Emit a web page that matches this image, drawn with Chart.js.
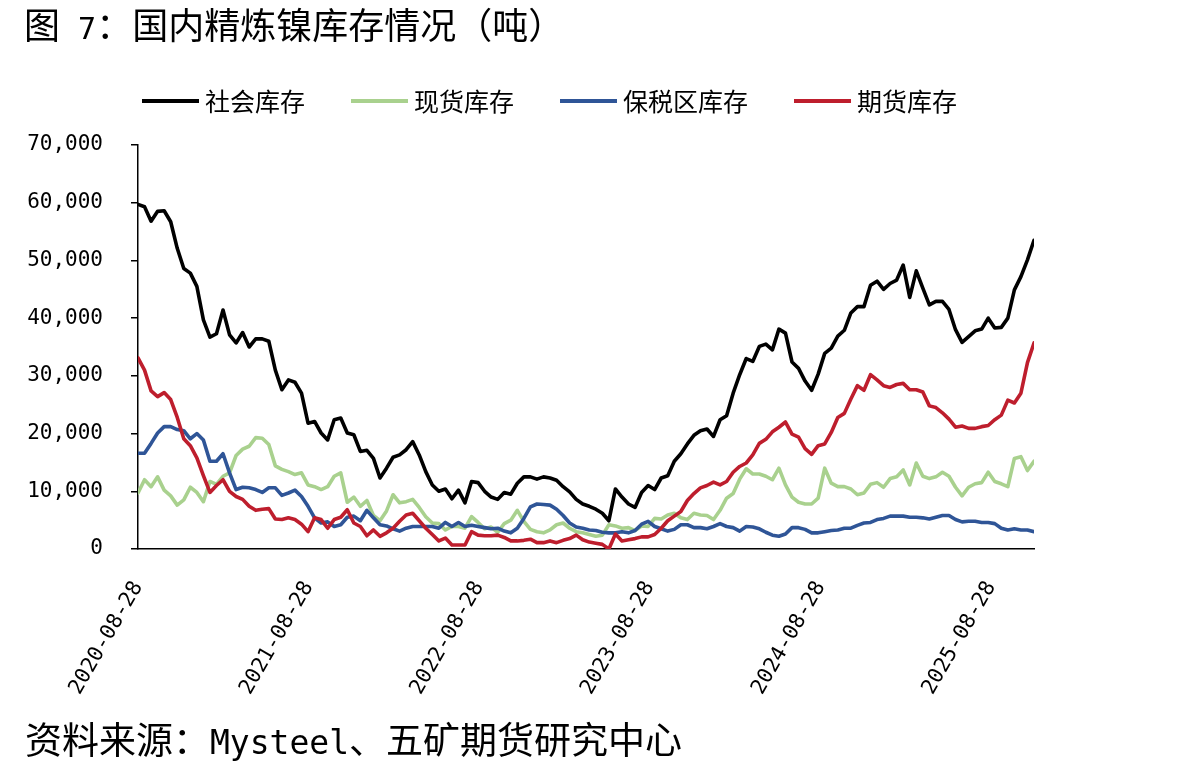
<!DOCTYPE html>
<html lang="zh-CN">
<head>
<meta charset="utf-8">
<title>国内精炼镍库存情况</title>
<script src="https://cdn.jsdelivr.net/npm/chart.js@4.4.1/dist/chart.umd.min.js"></script>
<style>
  html, body { margin: 0; padding: 0; background: #fff; }
  #page {
    position: relative; width: 1186px; height: 773px; overflow: hidden;
    font-family: "Noto Sans CJK SC", sans-serif; color: #000;
  }
  #chart { position: absolute; left: 0; top: 0; }
  .latin { font-family: "DejaVu Sans Mono", monospace; }
  .fig-title {
    position: absolute; left: 24px; top: 5px;
    font-size: 36px; line-height: 36px; white-space: nowrap;
  }
  .fig-title .latin { font-size: 30px; }
  .fig-source {
    position: absolute; left: 25px; top: 720px;
    font-size: 37px; line-height: 37px; white-space: nowrap;
  }
  .fig-source .latin { font-size: 33px; }
  .legend {
    position: absolute; left: 142px; top: 88px;
    display: flex; align-items: center; height: 25px;
    font-size: 25px; line-height: 25px;
  }
  .legend-item { display: flex; align-items: center; margin-right: 46px; }
  .legend-line { width: 57px; height: 4px; margin-right: 6px; }
</style>
</head>
<body>
<div id="page">
  <canvas id="chart" width="1186" height="773"></canvas>
  <div class="fig-title">图<span class="latin"> 7</span>：国内精炼镍库存情况（吨）</div>
  <div class="legend" id="legend"></div>
  <div class="fig-source">资料来源：<span class="latin">Mysteel</span>、五矿期货研究中心</div>
</div>
<script>
/* ---- data (tonnes, one reading every two weeks from START_DATE) ---- */
var START_DATE = '2020-08-28';
var STEP_DAYS = 14;
var AXIS_END_DAYS = 1918;
var TICK_DATES = ['2020-08-28', '2021-08-28', '2022-08-28', '2023-08-28', '2024-08-28', '2025-08-28'];

var SERIES_NAMES = ['社会库存', '现货库存', '保税区库存', '期货库存'];
var SERIES_COLORS = ['#000000', '#A9D18E', '#2F5597', '#BE1E2D'];

var SOCIAL = [59700,59300,56800,58500,58600,56700,52100,48600,47800,45500,
  39700,36700,37300,41400,37100,35700,37500,35000,36400,36400,
  36000,31000,27600,29300,28900,27000,21800,22100,20100,18900,
  22400,22700,20100,19800,16900,17100,15700,12300,14000,15900,
  16300,17200,18600,16300,13400,11100,10000,10400,8700,10200,
  8000,11700,11500,10000,9000,8600,9800,9500,11400,12500,
  12500,12100,12500,12300,11900,10800,9900,8600,7800,7400,
  6900,6200,4900,10400,9000,7800,7200,9800,11000,10300,
  12300,12700,15200,16500,18200,19700,20500,20800,19500,22400,
  23100,27000,30200,33000,32500,35100,35500,34500,38100,37400,
  32400,31300,29100,27500,30300,33900,34800,36900,37900,40900,
  42000,42000,45700,46400,45000,46000,46600,49200,43600,48200,
  45200,42300,42900,42900,41500,38000,35800,36800,37800,38100,
  40000,38300,38400,40000,44900,47200,50100,53500];

var SPOT = [9700,12000,10800,12500,10200,9200,7600,8500,10700,9800,
  8200,11700,11200,12600,13200,16200,17300,17800,19300,19200,
  18100,14400,13800,13400,12900,13200,11100,10800,10300,10800,
  12600,13200,8100,9000,7400,8400,5800,4900,6600,9400,
  8000,8200,8600,7200,5600,4500,4400,3300,3900,3900,
  3600,5600,4600,3500,3800,2900,4400,5000,6700,4800,
  3400,3000,2800,3300,4200,4500,3600,3000,2800,2500,
  2200,2400,4200,4000,3600,3700,3200,4000,3900,5300,
  5200,5900,6200,5400,5100,6200,5900,5800,5100,6700,
  8800,9600,12100,13900,13000,13000,12600,12000,14000,11100,
  9000,8100,7800,7800,8800,14000,11400,10800,10800,10400,
  9400,9700,11200,11500,10700,12200,12500,13700,11100,14900,
  12600,12200,12500,13300,12600,10700,9200,10700,11300,11500,
  13300,11700,11300,10800,15700,16000,13600,15200];

var BONDED = [16600,16600,18300,20100,21200,21200,20700,20500,19100,20000,
  18900,15200,15200,16500,13200,10300,10700,10600,10300,9800,
  10600,10600,9300,9700,10200,9100,7400,5400,4500,4700,
  3900,4200,5500,5700,4900,6700,5400,4200,4000,3500,
  3100,3600,3900,3900,3900,3900,3600,4600,3900,4600,
  3900,4100,3900,3700,3500,3600,3100,2800,3600,5300,
  7300,7800,7700,7600,6900,5800,4500,3800,3600,3300,
  3200,2900,2800,2800,3000,2800,3200,4300,4800,3900,
  3500,3100,3400,4200,4200,3700,3700,3500,3900,4400,
  3900,3700,3100,3900,3800,3500,2900,2400,2200,2600,
  3700,3700,3400,2800,2800,3000,3200,3300,3600,3600,
  4100,4500,4600,5100,5300,5700,5700,5700,5500,5500,
  5400,5200,5500,5800,5800,5100,4700,4800,4800,4600,
  4600,4400,3600,3300,3500,3300,3300,3000];

var FUTURES = [33100,31000,27400,26400,27100,25900,22800,19100,17900,15800,
  12700,9800,11000,12000,10000,9100,8600,7400,6700,6900,
  7000,5200,5100,5400,5100,4300,3000,5400,5100,3600,
  5100,5500,6800,4500,3900,2300,3300,2200,2800,3600,
  4800,5900,6200,4900,3600,2500,1400,1900,700,700,
  700,3000,2400,2300,2300,2400,2000,1400,1400,1500,
  1700,1100,1100,1400,1100,1500,1800,2400,1600,1200,
  1000,800,0,2600,1400,1600,1800,2100,2100,2500,
  3600,4900,5700,6500,8400,9600,10600,11000,11600,11100,
  11700,13300,14300,14900,16300,18300,19000,20300,21100,22000,
  19900,19400,17400,16400,17900,18200,20200,22800,23500,26000,
  28300,27500,30200,29300,28300,28000,28500,28700,27600,27600,
  27200,24800,24500,23600,22500,21100,21300,20900,20900,21200,
  21400,22400,23200,25800,25300,27000,32300,35700];

var MONO = '"DejaVu Sans Mono", monospace';

function dayOffset(str) {
  return Math.round((Date.parse(str) - Date.parse(START_DATE)) / 86400000);
}
var TICK_DAYS = TICK_DATES.map(dayOffset);

function toPoints(values) {
  return values.map(function(v, i) { return { x: i * STEP_DAYS, y: v }; });
}

function fmtThousands(v) {
  return String(v).replace(/\B(?=(\d{3})+(?!\d))/g, ',');
}

/* Legend (HTML) */
var leg = document.getElementById('legend');
SERIES_NAMES.forEach(function(name, i) {
  var item = document.createElement('div');
  item.className = 'legend-item';
  item.innerHTML = '<span class="legend-line" style="background:' + SERIES_COLORS[i] + '"></span><span>' + name + '</span>';
  leg.appendChild(item);
});

/* Chart */
var seriesValues = [SOCIAL, SPOT, BONDED, FUTURES];
var datasets = seriesValues.map(function(vals, i) {
  return {
    label: SERIES_NAMES[i],
    data: toPoints(vals),
    borderColor: SERIES_COLORS[i],
    backgroundColor: SERIES_COLORS[i],
    borderWidth: 3.6,
    pointRadius: 0,
    tension: 0,
    fill: false,
    order: seriesValues.length - i
  };
});

new Chart(document.getElementById('chart'), {
  type: 'line',
  data: { datasets: datasets },
  options: {
    responsive: false,
    animation: false,
    events: [],
    layout: { padding: { left: 0, top: 145, right: 152, bottom: 0 } },
    plugins: { legend: { display: false }, tooltip: { enabled: false } },
    elements: { line: { borderJoinStyle: 'round', borderCapStyle: 'round' } },
    scales: {
      x: {
        type: 'linear', min: 0, max: AXIS_END_DAYS,
        afterBuildTicks: function(s) { s.ticks = TICK_DAYS.map(function(d) { return { value: d }; }); },
        afterFit: function(s) { s.height = 224; },
        grid: { display: false },
        border: { display: true, color: '#000', width: 1.5 },
        ticks: {
          autoSkip: false, maxRotation: 60, minRotation: 60, padding: 20,
          color: '#000', font: { family: MONO, size: 21 },
          callback: function(v) { return TICK_DATES[TICK_DAYS.indexOf(v)]; }
        }
      },
      y: {
        min: 0, max: 70000,
        afterFit: function(s) { s.width = 138; },
        grid: { display: true, drawOnChartArea: false, drawTicks: true, tickLength: 7, color: '#000', lineWidth: 1.5 },
        border: { display: true, color: '#000', width: 1.5 },
        ticks: {
          stepSize: 10000, padding: 28, color: '#000',
          font: { family: MONO, size: 21 },
          callback: function(v) { return fmtThousands(v); }
        }
      }
    }
  }
});
</script>
</body>
</html>
